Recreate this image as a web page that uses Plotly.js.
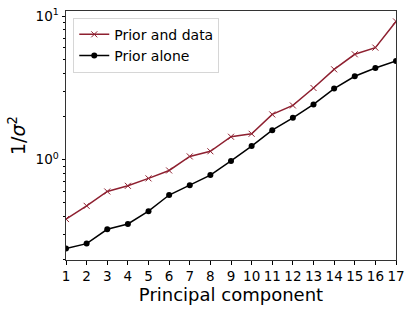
<!DOCTYPE html>
<html><head><meta charset="utf-8">
<script src="https://cdn.plot.ly/plotly-3.0.1.min.js"></script>
<style>html,body{margin:0;padding:0;background:#fff}#chart{width:415px;height:311px}</style>
</head><body><div id="chart"></div>
<script>
const components = [1,2,3,4,5,6,7,8,9,10,11,12,13,14,15,16,17];
const priorAndData = [0.384,0.475,0.598,0.655,0.738,0.838,1.05,1.14,1.44,1.51,2.06,2.38,3.15,4.25,5.41,6.02,9.17];
const priorAlone = [0.239,0.259,0.326,0.355,0.436,0.565,0.662,0.778,0.977,1.24,1.60,1.95,2.42,3.12,3.80,4.34,4.86];
const yTickVals = [1,10];
const yTickText = ['10<sup>0</sup>','10<sup>1</sup>'];
const yMinorVals = [0.2,0.3,0.4,0.5,0.6,0.7,0.8,0.9,2,3,4,5,6,7,8,9];

const red = '#8e2030';
const traces = [
  {x: components, y: priorAndData, name: 'Prior and data', mode: 'lines+markers',
   line: {color: red, width: 1.5}, marker: {symbol: 'x-thin-open', size: 6, color: red, line: {color: red, width: 1}}},
  {x: components, y: priorAlone, name: 'Prior alone', mode: 'lines+markers',
   line: {color: '#000', width: 1.5}, marker: {symbol: 'circle', size: 6, color: '#000'}}
];
const tickFont = {family: 'DejaVu Sans', size: 13.5, color: '#000'};
const layout = {
  width: 415, height: 311,
  margin: {l: 65.5, r: 19, t: 10.5, b: 51},
  paper_bgcolor: '#fff', plot_bgcolor: '#fff',
  font: {family: 'DejaVu Sans', size: 13.5, color: '#000'},
  showlegend: true,
  legend: {x: 0.022, y: 0.973, xanchor: 'left', yanchor: 'top', bgcolor: 'rgba(255,255,255,0.8)',
    bordercolor: '#d6d6d6', borderwidth: 1, font: {family: 'DejaVu Sans', size: 14, color: '#000'}, tracegroupgap: 0},
  xaxis: {range: [1,17], tickmode: 'linear', tick0: 1, dtick: 1, ticks: 'outside', ticklen: 3.5,
    tickcolor: '#000', showgrid: false, zeroline: false, showline: true, linecolor: '#333', linewidth: 1, mirror: true,
    tickfont: tickFont, title: {text: 'Principal component', font: {family: 'DejaVu Sans', size: 18}, standoff: 2}},
  yaxis: {type: 'log', range: [-0.701, 1.035], tickmode: 'array', tickvals: yTickVals, ticktext: yTickText,
    ticks: 'outside', ticklen: 3.5, tickcolor: '#000', showgrid: false, zeroline: false, showline: true,
    linecolor: '#333', linewidth: 1, mirror: true, tickfont: tickFont,
    minor: {tickmode: 'array', tickvals: yMinorVals, ticks: 'outside', ticklen: 2, tickcolor: '#000', showgrid: false},
    title: {text: '1/<i>σ</i><sup>2</sup>', font: {family: 'DejaVu Sans', size: 19}, standoff: 4}}
};
Plotly.newPlot('chart', traces, layout, {displayModeBar: false, staticPlot: true});
</script></body></html>
